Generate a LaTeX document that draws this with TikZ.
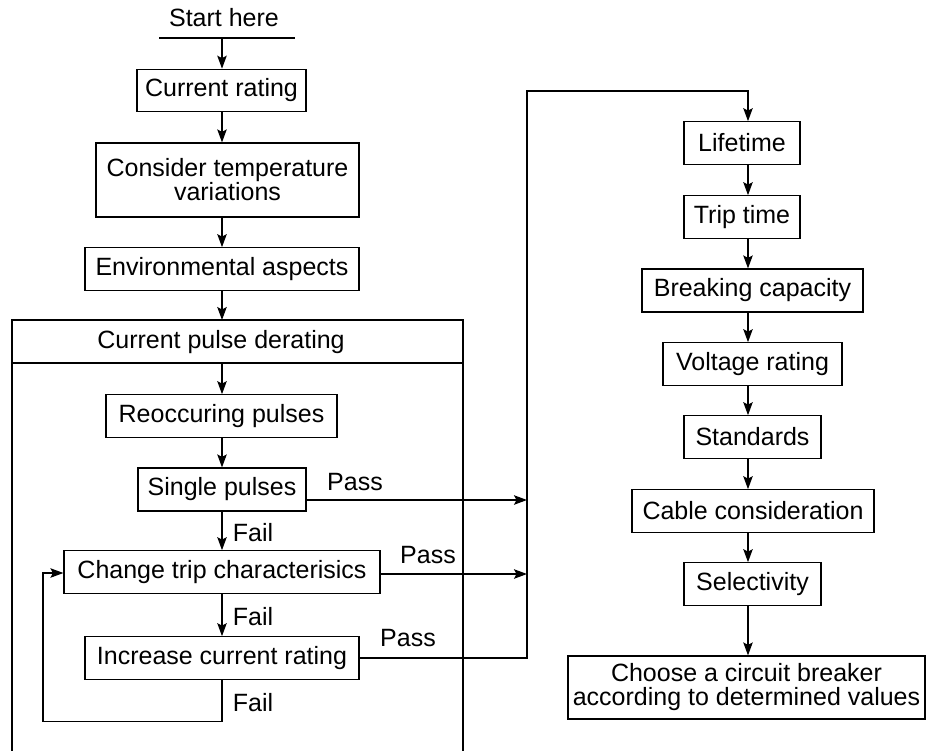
\documentclass[tikz,border=0pt]{standalone}
\usepackage{fontspec}
\setmainfont{Liberation Sans}
\usetikzlibrary{arrows.meta,positioning}

\begin{document}
\begin{tikzpicture}[x=1pt,y=-1pt,
    every node/.style={font=\fontsize{25}{24}\selectfont},
    box/.style={draw, line width=1.2pt, inner sep=0pt, minimum height=42.5pt, align=center},
    flow/.style={-{Stealth[length=13pt,width=9.5pt,inset=2.5pt]}, line width=1.2pt},
    plain/.style={line width=1.2pt},
    frame/.style={line width=2pt}]
    \useasboundingbox (0,0) rectangle (926,750);

    % Columns of arrows
    \coordinate (lx) at (222,0);
    \coordinate (rx) at (748,0);
    \coordinate (bus) at (527,658);
    \coordinate (bustop) at (527,91);

    % Start
    \node (start) at (224,18) {Start here};
    \draw[plain] (159,38) -- (295,38);
    \coordinate (s0) at (222,38);

    % Left column
    \node[box, minimum width=169pt] (rating) at (221.5,90.5) {Current rating};
    \node[box, minimum width=263pt, minimum height=74pt] (temp) at (227.5,180) {Consider temperature\\variations};
    \node[box, minimum width=274pt] (env) at (222,269) {Environmental aspects};

    % Current pulse derating frame
    \draw[frame] (12,775) |- (463,320) -- (463,775);
    \draw[plain] (12,363) -- (463,363);
    \coordinate (hdrtop) at (222,320);
    \coordinate (hdrbot) at (222,363);
    \node (pulse) at (221,342) {Current pulse derating};

    \node[box, minimum width=231pt] (reoc) at (221.5,416) {Reoccuring pulses};
    \node[box, minimum width=168pt, minimum height=43pt] (single) at (222,489.5) {Single pulses};
    \node[box, minimum width=316pt] (change) at (222,572) {Change trip characterisics};
    \node[box, minimum width=274pt] (incr) at (222,658) {Increase current rating};

    % Right column
    \node[box, minimum width=116pt] (life) at (742,143) {Lifetime};
    \node[box, minimum width=116pt] (trip) at (742,217) {Trip time};
    \node[box, minimum width=221pt, minimum height=43pt] (break) at (752.5,290.5) {Breaking capacity};
    \node[box, minimum width=179pt] (volt) at (752.5,364) {Voltage rating};
    \node[box, minimum width=137pt] (std) at (752.5,437) {Standards};
    \node[box, minimum width=242pt] (cable) at (753,511) {Cable consideration};
    \node[box, minimum width=137pt] (sel) at (752.5,584) {Selectivity};
    \node[box, minimum width=357pt, minimum height=63pt] (choose) at (746.5,687.5) {Choose a circuit breaker\\according to determined values};

    % Arrows, left
    \draw[flow] (s0) -- (rating.north -| lx);
    \draw[flow] (rating.south -| lx) -- (temp.north -| lx);
    \draw[flow] (temp.south -| lx) -- (env.north -| lx);
    \draw[flow] (env.south -| lx) -- (hdrtop);
    \draw[flow] (hdrbot) -- (reoc.north -| lx);
    \draw[flow] (reoc.south -| lx) -- (single.north -| lx);
    \draw[flow] (single.south -| lx) -- (change.north -| lx);
    \draw[flow] (change.south -| lx) -- (incr.north -| lx);
    \draw[flow] (incr.south -| lx) -- ++(0,42) -| (43,573) -- (change.west |- 0,573);

    % Pass arrows
    \draw[flow] (single.east |- 0,500) -- (bus |- 0,500);
    \draw[flow] (change.east |- 0,574) -- (bus |- 0,574);
    \draw[flow] (incr.east) -- (bus) -- (bustop) -| (life.north -| rx);

    % Arrows, right
    \draw[flow] (life.south -| rx) -- (trip.north -| rx);
    \draw[flow] (trip.south -| rx) -- (break.north -| rx);
    \draw[flow] (break.south -| rx) -- (volt.north -| rx);
    \draw[flow] (volt.south -| rx) -- (std.north -| rx);
    \draw[flow] (std.south -| rx) -- (cable.north -| rx);
    \draw[flow] (cable.south -| rx) -- (sel.north -| rx);
    \draw[flow] (sel.south -| rx) -- (choose.north -| rx);

    % Labels
    \node (pass1) at (355,482) {Pass};
    \node (pass2) at (428,555) {Pass};
    \node (pass3) at (408,638) {Pass};
    \node (fail1) at (253,533) {Fail};
    \node (fail2) at (253,617) {Fail};
    \node (fail3) at (253,703) {Fail};

\end{tikzpicture}
\end{document}
